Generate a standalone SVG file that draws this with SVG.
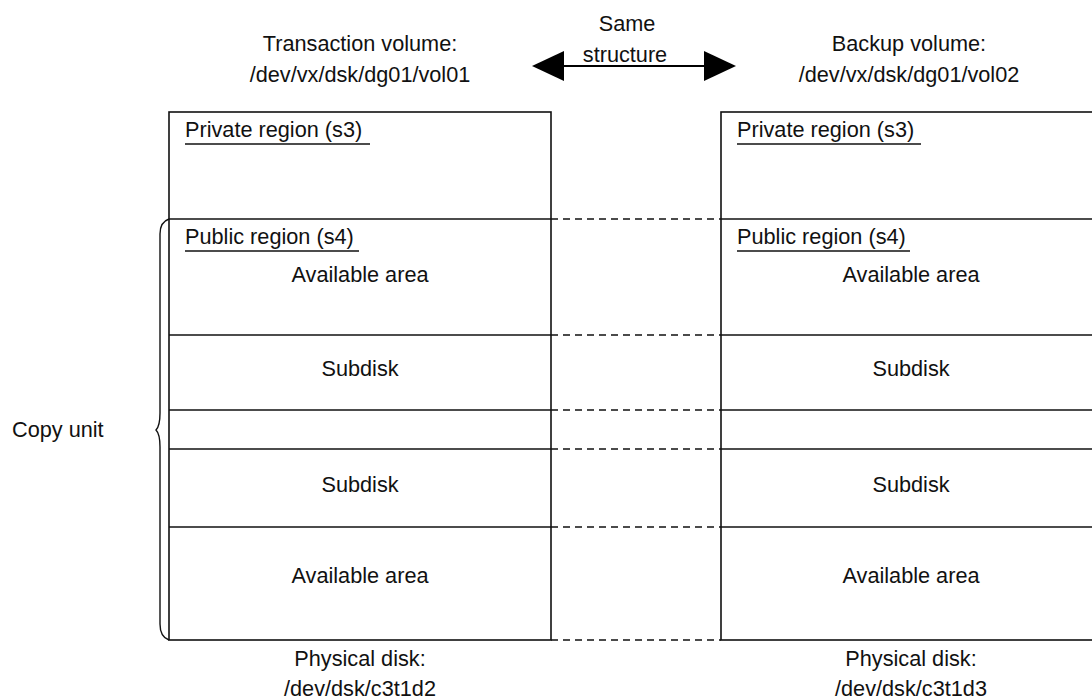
<svg xmlns="http://www.w3.org/2000/svg" width="1092" height="700" viewBox="0 0 1092 700">
<style>
  text { font-family: "Liberation Sans", Arial, sans-serif; font-size: 21.7px; fill: #111; }
  .c { text-anchor: middle; }
  .box { fill: #fff; stroke: #111; stroke-width: 1.6; }
  .sep { stroke: #111; stroke-width: 1.6; }
  .ul { stroke: #111; stroke-width: 1.6; }
  .dash { stroke: #111; stroke-width: 1.6; stroke-dasharray: 7 5; fill: none; }
  .brace { stroke: #111; stroke-width: 1.4; fill: none; }
</style>
<defs>
  <marker id="ah" viewBox="0 0 32 32" refX="0" refY="16" markerWidth="32" markerHeight="32" markerUnits="userSpaceOnUse" orient="auto-start-reverse">
    <path d="M0,1 L32,16 L0,31 Z" fill="#000"/>
  </marker>
</defs>
<rect width="1092" height="700" fill="#fff"/>

<g id="transaction-volume">
  <text class="c" x="360" y="51">Transaction volume:</text>
  <text class="c" x="360" y="82">/dev/vx/dsk/dg01/vol01</text>
  <rect class="box" x="169" y="112" width="382" height="528"/>
  <line class="sep" x1="169" y1="219" x2="551" y2="219"/>
  <line class="sep" x1="169" y1="335" x2="551" y2="335"/>
  <line class="sep" x1="169" y1="410" x2="551" y2="410"/>
  <line class="sep" x1="169" y1="449" x2="551" y2="449"/>
  <line class="sep" x1="169" y1="527" x2="551" y2="527"/>
  <text x="185" y="137">Private region (s3)</text>
  <line class="ul" x1="185" y1="144" x2="370" y2="144"/>
  <text x="185" y="244">Public region (s4)</text>
  <line class="ul" x1="185" y1="251" x2="359" y2="251"/>
  <text class="c" x="360" y="282">Available area</text>
  <text class="c" x="360" y="376">Subdisk</text>
  <text class="c" x="360" y="492">Subdisk</text>
  <text class="c" x="360" y="583">Available area</text>
  <text class="c" x="360" y="666">Physical disk:</text>
  <text class="c" x="360" y="696">/dev/dsk/c3t1d2</text>
</g>

<g id="backup-volume">
  <text class="c" x="909" y="51">Backup volume:</text>
  <text class="c" x="909" y="82">/dev/vx/dsk/dg01/vol02</text>
  <rect class="box" x="721" y="112" width="382" height="528"/>
  <line class="sep" x1="721" y1="219" x2="1103" y2="219"/>
  <line class="sep" x1="721" y1="335" x2="1103" y2="335"/>
  <line class="sep" x1="721" y1="410" x2="1103" y2="410"/>
  <line class="sep" x1="721" y1="449" x2="1103" y2="449"/>
  <line class="sep" x1="721" y1="527" x2="1103" y2="527"/>
  <text x="737" y="137">Private region (s3)</text>
  <line class="ul" x1="737" y1="144" x2="921" y2="144"/>
  <text x="737" y="244">Public region (s4)</text>
  <line class="ul" x1="737" y1="251" x2="910" y2="251"/>
  <text class="c" x="911" y="282">Available area</text>
  <text class="c" x="911" y="376">Subdisk</text>
  <text class="c" x="911" y="492">Subdisk</text>
  <text class="c" x="911" y="583">Available area</text>
  <text class="c" x="911" y="666">Physical disk:</text>
  <text class="c" x="911" y="696">/dev/dsk/c3t1d3</text>
</g>

<g id="copy-unit">
  <path class="brace" d="M169,219 Q160,222 160,234 L160,413 Q160,426 156,430 Q160,434 160,447 L160,624 Q160,637 169,640"/>
  <text x="12" y="437">Copy unit</text>
</g>

<g id="connectors">
  <line x1="564" y1="66" x2="704" y2="66" stroke="#000" stroke-width="2" marker-start="url(#ah)" marker-end="url(#ah)"/>
  <text class="c" x="627" y="31">Same</text>
  <text class="c" x="625" y="62">structure</text>
  <line class="dash" x1="551" y1="219" x2="721" y2="219"/>
  <line class="dash" x1="551" y1="335" x2="721" y2="335"/>
  <line class="dash" x1="551" y1="410" x2="721" y2="410"/>
  <line class="dash" x1="551" y1="449" x2="721" y2="449"/>
  <line class="dash" x1="551" y1="527" x2="721" y2="527"/>
  <line class="dash" x1="551" y1="640" x2="721" y2="640"/>
</g>
</svg>
